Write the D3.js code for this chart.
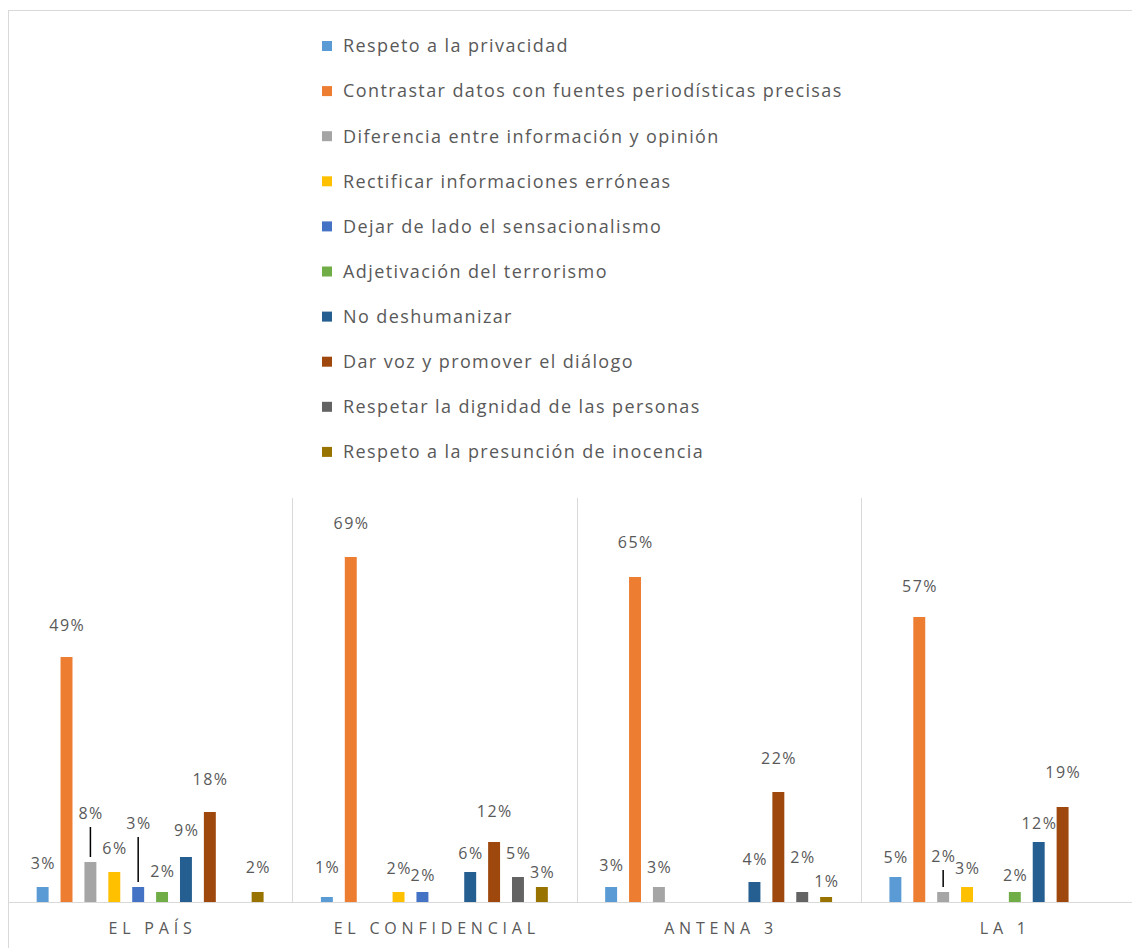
<!DOCTYPE html>
<html>
<head>
<meta charset="utf-8">
<script src="https://cdn.jsdelivr.net/npm/d3@7"></script>
<style>
  body { margin: 0; background: #fff; }
  svg text { font-family: "Open Sans", sans-serif; fill: #595959; }
</style>
</head>
<body>
<div id="chart"></div>
<script>
'use strict';

var width = 1132;
var height = 948;

// series (legend order)
var series = [
  'Respeto a la privacidad',
  'Contrastar datos con fuentes periodísticas precisas',
  'Diferencia entre información y opinión',
  'Rectificar informaciones erróneas',
  'Dejar de lado el sensacionalismo',
  'Adjetivación del terrorismo',
  'No deshumanizar',
  'Dar voz y promover el diálogo',
  'Respetar la dignidad de las personas',
  'Respeto a la presunción de inocencia'
];
var colors = ['#5b9bd5', '#ed7d31', '#a5a5a5', '#ffc000', '#4472c4',
  '#70ad47', '#255e91', '#9e480e', '#636363', '#997300'];

// categories
var groups = ['EL PAÍS', 'EL CONFIDENCIAL', 'ANTENA 3', 'LA 1'];

// percentages per medium, in series order (null = no bar)
var elPais = [3, 49, 8, 6, 3, 2, 9, 18, null, 2];
var elConfidencial = [1, 69, null, 2, 2, null, 6, 12, 5, 3];
var antena3 = [3, 65, 3, null, null, null, 4, 22, 2, 1];
var la1 = [5, 57, 2, 3, null, 2, 12, 19, null, null];
var values = [elPais, elConfidencial, antena3, la1];

// how far each data label sits above its bar (moved by hand in the original)
var labelLift = [
  [24, 32, 49, 24, 64, 21, 27, 33, 0, 25],
  [30, 34, 0, 24, 17, 0, 19, 31, 24, 15],
  [22, 35, 20, 0, 0, 0, 23, 34, 35, 16],
  [20, 31, 36, 19, 0, 17, 19, 35, 0, 0]
];
// labels that were dragged away and got a leader line: [group, series]
var leaders = [[0, 2], [0, 4], [3, 2]];

var plot = { left: 8, right: 1145, top: 498, bottom: 902 };

var svg = d3.select('#chart').append('svg')
  .attr('width', width)
  .attr('height', height);

// chart frame
svg.append('rect')
  .attr('x', 8.5).attr('y', 10.5)
  .attr('width', 1300).attr('height', 1100)
  .attr('fill', 'none')
  .attr('stroke', '#d9d9d9');

var x0 = d3.scaleBand()
  .domain(groups)
  .range([plot.left, plot.right]);

var x1 = d3.scaleBand()
  .domain(d3.range(series.length))
  .range([0, x0.bandwidth()])
  .paddingInner(0.5)
  .paddingOuter(1.2);

var y = d3.scaleLinear()
  .domain([0, 80.8])
  .range([plot.bottom, plot.top]);

// vertical lines between categories
svg.selectAll('line.sep')
  .data(groups.slice(1).concat(['end']))
  .enter()
  .append('line')
  .attr('class', 'sep')
  .attr('x1', function (g) { return Math.round(g === 'end' ? plot.right : x0(g)) + 0.5; })
  .attr('x2', function (g) { return Math.round(g === 'end' ? plot.right : x0(g)) + 0.5; })
  .attr('y1', y(80.8))
  .attr('y2', y(0))
  .attr('stroke', '#d9d9d9');

// legend
var legend = svg.append('g').attr('class', 'legend');
var item = legend.selectAll('g')
  .data(series)
  .enter()
  .append('g')
  .attr('transform', function (d, i) { return 'translate(322,' + (46 + i * 45.1) + ')'; });
item.append('rect')
  .attr('x', 0).attr('y', -5)
  .attr('width', 10).attr('height', 10)
  .attr('fill', function (d, i) { return colors[i]; });
item.append('text')
  .attr('x', 21)
  .attr('dy', '0.35em')
  .style('font-size', '18px')
  .style('letter-spacing', '1.4px')
  .text(function (d) { return d; });

// bars
var rows = [];
values.forEach(function (vals, gi) {
  vals.forEach(function (v, si) {
    if (v !== null) {
      rows.push({ g: groups[gi], gi: gi, si: si, v: v });
    }
  });
});

svg.append('g').selectAll('rect')
  .data(rows)
  .enter()
  .append('rect')
  .attr('x', function (d) { return x0(d.g) + x1(d.si); })
  .attr('y', function (d) { return y(d.v); })
  .attr('width', x1.bandwidth())
  .attr('height', function (d) { return y(0) - y(d.v); })
  .attr('fill', function (d) { return colors[d.si]; });

// category axis (its domain line is the base line)
var axis = svg.append('g')
  .attr('transform', 'translate(0,' + y(0) + ')')
  .call(d3.axisBottom(x0).tickSize(0).tickSizeOuter(0));
axis.select('.domain').attr('stroke', '#d9d9d9');
axis.selectAll('text')
  .attr('y', 26)
  .attr('dy', '0.35em')
  .attr('dx', '2.4px')
  .style('font-family', '"Open Sans", sans-serif')
  .style('font-size', '16px')
  .style('letter-spacing', '4.8px')
  .style('fill', '#595959');

// data labels
function isLeader(d) {
  return leaders.some(function (l) { return l[0] === d.gi && l[1] === d.si; });
}
function labelY(d) {
  return y(d.v) - labelLift[d.gi][d.si];
}
function barCenter(d) {
  return x0(d.g) + x1(d.si) + x1.bandwidth() / 2;
}

svg.append('g').selectAll('text')
  .data(rows)
  .enter()
  .append('text')
  .attr('x', barCenter)
  .attr('y', labelY)
  .attr('dy', '0.35em')
  .attr('dx', '0.75px')
  .attr('text-anchor', 'middle')
  .style('font-size', '16px')
  .style('letter-spacing', '1.5px')
  .text(function (d) { return d.v + '%'; });

svg.append('g').selectAll('line')
  .data(rows.filter(isLeader))
  .enter()
  .append('line')
  .attr('x1', barCenter)
  .attr('x2', barCenter)
  .attr('y1', function (d) { return labelY(d) + 14; })
  .attr('y2', function (d) { return y(d.v) - 5; })
  .attr('stroke', '#000')
  .attr('stroke-width', 1.5);
</script>
</body>
</html>
